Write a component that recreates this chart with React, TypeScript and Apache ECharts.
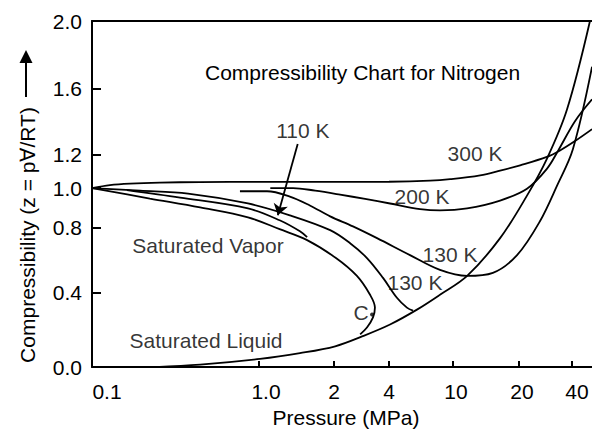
import React, { useEffect, useRef } from "react";
import * as echarts from "echarts";

// ---- tick values and labels ----
const xTickValues = [0.1, 1, 2, 4, 10, 20, 40];
const xTickLabels = ["0.1", "1.0", "2", "4", "10", "20", "40"];
const yTickValues = [0, 0.4, 0.8, 1.0, 1.2, 1.6, 2.0];
const yTickLabels = ["0.0", "0.4", "0.8", "1.0", "1.2", "1.6", "2.0"];

// ---- curves: [pressure MPa, compressibility z] ----
const iso300K: [number, number][] = [
  [0.1, 1.0], [0.128, 1.018], [0.169, 1.027], [0.255, 1.033], [0.444, 1.036],
  [1.0, 1.037], [2.0, 1.037], [4.0, 1.038], [7.2, 1.044], [9.6, 1.053],
  [13.3, 1.076], [16.4, 1.104], [20.3, 1.136], [28.8, 1.186], [34.2, 1.225],
  [41.6, 1.282], [52, 1.354],
];
const iso200K: [number, number][] = [
  [1.11, 1.0], [1.37, 1.0], [1.68, 0.987], [2.16, 0.967], [2.96, 0.945],
  [4.06, 0.922], [6.24, 0.894], [8.3, 0.887], [11.6, 0.897], [16.4, 0.937],
  [22.2, 0.997], [28.8, 1.115], [33.3, 1.222], [41.6, 1.402], [52, 1.534],
];
const iso130KUpper: [number, number][] = [
  [0.769, 0.984], [1.077, 0.984], [1.33, 0.957], [1.6, 0.912], [1.93, 0.857],
  [2.54, 0.806], [3.44, 0.735], [5.4, 0.631], [8.3, 0.54], [11.6, 0.503],
  [15.2, 0.522], [19.6, 0.631], [26.3, 0.832], [32.9, 1.015], [40.5, 1.234],
  [52, 1.729],
];
const iso130KLower: [number, number][] = [
  [0.1, 1.0], [0.194, 0.987], [0.376, 0.972], [0.859, 0.922], [1.33, 0.862],
  [1.93, 0.784], [2.45, 0.704], [3.03, 0.613], [3.71, 0.491], [4.48, 0.373],
  [5.17, 0.32], [5.64, 0.304],
];
const iso110K: [number, number][] = [
  [0.162, 0.99], [0.337, 0.952], [0.859, 0.897], [1.21, 0.837], [1.46, 0.777],
  [1.56, 0.741],
];
const satVapor: [number, number][] = [
  [0.1, 1.0], [0.222, 0.947], [0.444, 0.902], [0.859, 0.852], [1.21, 0.79],
  [1.56, 0.723], [2.05, 0.613], [2.67, 0.503], [3.15, 0.389], [3.35, 0.32],
  [3.27, 0.267], [3.03, 0.213], [2.78, 0.176],
];
const satLiquid: [number, number][] = [
  [0.238, 0.0], [0.444, 0.013], [1.01, 0.044], [1.46, 0.075], [2.03, 0.112],
  [2.85, 0.165], [4.06, 0.229], [5.97, 0.309], [8.3, 0.389], [11.6, 0.503],
  [16.4, 0.735], [22.2, 0.962], [28.8, 1.175], [37.5, 1.474], [50.6, 2.0],
];
const criticalPoint: [number, number] = [3.23, 0.283];
const arrow110K: [number, number][] = [[1.43, 1.264], [1.19, 0.862]];

const annotationTexts = ["110 K", "300 K", "200 K", "130 K", "130 K", "Saturated Vapor", "Saturated Liquid", "C"];
const annotationP = [1.5, 12.6, 6.42, 9.58, 5.8, 0.495, 0.482, 2.81];
const annotationZ = [1.348, 1.204, 0.957, 0.637, 0.461, 0.692, 0.144, 0.293];

// ---- layout of the hand-drawn axes (fraction of axis length for each tick) ----
const X_TICK_POS = [0, 167, 242, 297, 361, 427, 480].map((v) => v / 500);
const Y_TICK_POS = [0, 75, 140.7, 180.5, 214.3, 281, 349].map((v) => v / 349);
const X_LABEL_SHIFT = [15, 7, 0, 0, 3, 3, 5];
const FONT = "'Liberation Sans', Arial, Helvetica, sans-serif";
const FS = 21;

function warp(v: number, stops: number[], pos: number[]): number {
  let i = 0;
  while (i < stops.length - 2 && v > stops[i + 1]) i++;
  return pos[i] + ((v - stops[i]) / (stops[i + 1] - stops[i])) * (pos[i + 1] - pos[i]);
}
const xLogStops = xTickValues.map((v) => Math.log10(v));
const ux = (p: number) => warp(Math.log10(p), xLogStops, X_TICK_POS);
const vy = (z: number) => warp(z, yTickValues, Y_TICK_POS);
const toXY = (pts: [number, number][]) => pts.map(([p, z]) => [ux(p), vy(z)]);

function idxOf(arr: number[], v: number) {
  let best = 0;
  for (let i = 0; i < arr.length; i++) if (Math.abs(arr[i] - v) < Math.abs(arr[best] - v)) best = i;
  return best;
}

export default function App() {
  const ref = useRef<HTMLDivElement>(null);
  useEffect(() => {
    if (!ref.current) return;
    const chart = echarts.init(ref.current, null, { renderer: "svg" });
    const curveStyle = { color: "#000", width: 1.8 };
    const curves = [iso300K, iso200K, iso130KUpper, iso130KLower, iso110K, satVapor, satLiquid];
    const rich: Record<string, any> = {};
    X_LABEL_SHIFT.forEach((s, i) => {
      rich["s" + i] = { fontSize: FS, fontFamily: FONT, color: "#000", padding: [0, 0, 0, 2 * s] };
    });
    const option: any = {
      animation: false,
      backgroundColor: "#fff",
      title: {
        text: "Compressibility Chart for Nitrogen",
        left: 205,
        top: 61.5,
        padding: 0,
        textStyle: { fontSize: FS, fontWeight: "normal", color: "#000", fontFamily: FONT },
      },
      grid: { left: 92, right: 0, top: 21, bottom: 63, containLabel: false },
      xAxis: [
        {
          type: "value",
          min: 0,
          max: 1,
          position: "bottom",
          axisLine: { show: true, onZero: false, lineStyle: { color: "#000", width: 2 } },
          axisTick: {
            show: true,
            inside: true,
            length: 6,
            customValues: xTickValues.slice(1).map(ux),
            lineStyle: { color: "#000", width: 2 },
          },
          axisLabel: {
            show: true,
            customValues: X_TICK_POS,
            margin: 14,
            fontSize: FS,
            fontFamily: FONT,
            color: "#000",
            lineHeight: FS,
            formatter: (val: number) => {
              const i = idxOf(X_TICK_POS, val);
              return `{s${i}|${xTickLabels[i]}}`;
            },
            rich,
          },
          splitLine: { show: false },
          name: "Pressure (MPa)",
          nameLocation: "middle",
          nameGap: 38.5,
          nameTextStyle: { fontSize: FS, fontFamily: FONT, color: "#000", padding: [0, 0, 0, 8] },
        },
        {
          type: "value",
          min: 0,
          max: 1,
          position: "top",
          axisLine: { show: true, onZero: false, lineStyle: { color: "#000", width: 2 } },
          axisTick: { show: false },
          axisLabel: { show: false },
          splitLine: { show: false },
        },
      ],
      yAxis: {
        type: "value",
        min: 0,
        max: 1,
        axisLine: { show: true, onZero: false, lineStyle: { color: "#000", width: 2 } },
        axisTick: {
          show: true,
          inside: true,
          length: 9,
          customValues: [0.4, 0.8, 1.0, 1.2, 1.6].map(vy),
          lineStyle: { color: "#000", width: 2 },
        },
        axisLabel: {
          show: true,
          customValues: Y_TICK_POS,
          margin: 10,
          fontSize: FS,
          fontFamily: FONT,
          color: "#000",
          formatter: (val: number) => yTickLabels[idxOf(Y_TICK_POS, val)],
        },
        splitLine: { show: false },
      },
      graphic: [
        {
          type: "text",
          x: 27,
          y: 235,
          rotation: Math.PI / 2,
          style: {
            text: "Compressibility (z = p\u2200/RT)",
            font: `${FS}px ${FONT}`,
            fill: "#000",
            textAlign: "center",
            textVerticalAlign: "middle",
          },
        },
        {
          type: "line",
          shape: { x1: 26, y1: 97, x2: 26, y2: 60 },
          style: { stroke: "#000", lineWidth: 2 },
        },
        {
          type: "polygon",
          shape: { points: [[26, 50], [19.5, 63], [32.5, 63]] },
          style: { fill: "#000" },
        },
      ],
      series: [
        ...curves.map((c) => ({
          type: "line",
          data: toXY(c),
          smooth: 0.35,
          showSymbol: false,
          silent: true,
          clip: false,
          lineStyle: curveStyle,
        })),
        {
          type: "scatter",
          data: [[ux(criticalPoint[0]), vy(criticalPoint[1])]],
          symbolSize: 4,
          itemStyle: { color: "#000" },
          silent: true,
        },
        {
          type: "lines",
          coordinateSystem: "cartesian2d",
          data: [{ coords: toXY(arrow110K) }],
          symbol: ["none", "arrow"],
          symbolSize: 11,
          lineStyle: { color: "#000", width: 1.8, curveness: 0, opacity: 1 },
          silent: true,
        },
        {
          type: "scatter",
          data: annotationTexts.map((t, i) => ({ name: t, value: [ux(annotationP[i]), vy(annotationZ[i])] })),
          symbolSize: 1,
          itemStyle: { color: "transparent" },
          silent: true,
          label: {
            show: true,
            position: "inside",
            formatter: "{b}",
            fontSize: FS,
            fontFamily: FONT,
            color: "#000",
            textBorderWidth: 0,
          },
        },
      ],
    };
    chart.setOption(option);
    return () => chart.dispose();
  }, []);
  return <div ref={ref} style={{ position: "fixed", left: 0, top: 0, width: 592, height: 433, background: "#fff" }} />;
}
